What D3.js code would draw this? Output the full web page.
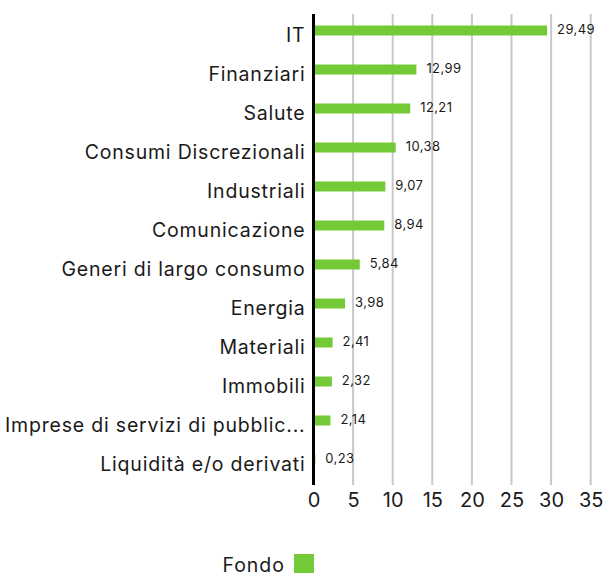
<!DOCTYPE html>
<html>
<head>
<meta charset="utf-8">
<script src="https://cdn.jsdelivr.net/npm/d3@7"></script>
<style>
  body { margin: 0; background: #fff; }
  text { font-family: Inter, "Open Sans", sans-serif; fill: #1a1a1a; }
</style>
</head>
<body>
<div id="chart"></div>
<script>
// data
const categories = ['IT', 'Finanziari', 'Salute', 'Consumi Discrezionali', 'Industriali',
  'Comunicazione', 'Generi di largo consumo', 'Energia', 'Materiali', 'Immobili',
  'Imprese di servizi di pubblic...', 'Liquidità e/o derivati']
const fondo = [29.49, 12.99, 12.21, 10.38, 9.07, 8.94, 5.84, 3.98, 2.41, 2.32, 2.14, 0.23]
const xTicks = [0, 5, 10, 15, 20, 25, 30, 35]
const seriesName = 'Fondo'

const W = 603
const H = 576
const green = '#74c936'
const fmt = v => d3.format('.2f')(v).replace('.', ',')

const svg = d3.select('#chart').append('svg')
  .attr('width', W)
  .attr('height', H)

const x = d3.scaleLinear()
  .domain([0, 35])
  .range([313.5, 590.7])
const y = d3.scaleBand()
  .domain(categories)
  .range([16, 484])

const plotTop = 14
const plotBottom = 485

// grid
svg.append('g')
  .selectAll('line')
  .data(xTicks.slice(1))
  .join('line')
  .attr('x1', d => x(d)).attr('x2', d => x(d))
  .attr('y1', plotTop).attr('y2', plotBottom)
  .attr('stroke', '#c8c8c8')
  .attr('stroke-width', 2)

// bars (upper half of each band)
const barH = 10
svg.append('g')
  .selectAll('rect')
  .data(fondo)
  .join('rect')
  .attr('x', x(0))
  .attr('y', (d, i) => y(categories[i]) + y.bandwidth() / 2 - barH)
  .attr('width', d => x(d) - x(0))
  .attr('height', barH)
  .attr('fill', green)

// value labels
svg.append('g')
  .selectAll('text')
  .data(fondo)
  .join('text')
  .attr('x', d => x(d) + 10)
  .attr('y', (d, i) => y(categories[i]) + y.bandwidth() / 2 - barH / 2 - 1)
  .attr('dy', '0.35em')
  .attr('font-size', 13)
  .attr('letter-spacing', 0.4)
  .text(d => fmt(d))

// y axis
const yAxis = d3.axisLeft(y).tickSize(0).tickPadding(8)
svg.append('g')
  .attr('transform', 'translate(' + x(0) + ',0)')
  .call(yAxis)
  .call(g => g.select('.domain').remove())
  .selectAll('text')
  .attr('font-size', 19.5)
  .attr('letter-spacing', 0.8)
  .attr('dy', '0.35em')

// x axis
const xAxis = d3.axisBottom(x).tickValues(xTicks).tickSize(0).tickPadding(8)
svg.append('g')
  .attr('transform', 'translate(0,' + plotBottom + ')')
  .call(xAxis)
  .call(g => g.select('.domain').remove())
  .selectAll('text')
  .attr('font-size', 20)

// black zero line
svg.append('line')
  .attr('x1', x(0)).attr('x2', x(0))
  .attr('y1', plotTop).attr('y2', plotBottom)
  .attr('stroke', '#000')
  .attr('stroke-width', 3)

// legend
const legend = svg.append('g')
legend.append('text')
  .attr('x', 285)
  .attr('y', 565)
  .attr('dy', '0.35em')
  .attr('text-anchor', 'end')
  .attr('font-size', 19.5)
  .attr('letter-spacing', 1)
  .text(seriesName)
legend.append('rect')
  .attr('x', 294).attr('y', 554)
  .attr('width', 20).attr('height', 19)
  .attr('fill', green)
</script>
</body>
</html>
